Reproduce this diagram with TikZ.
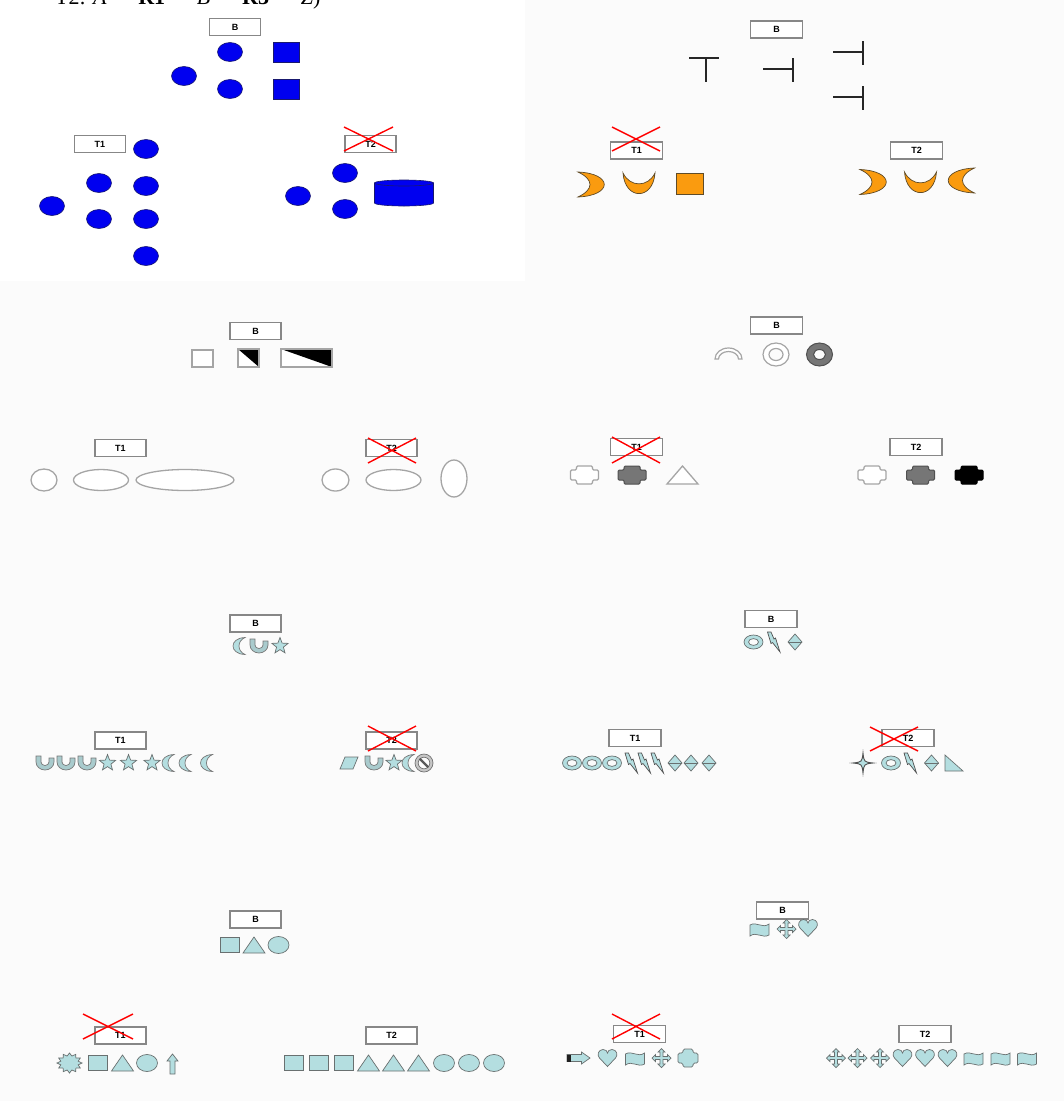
\documentclass[tikz,border=0pt]{standalone}
\usepackage{fontspec}
\setmainfont{Liberation Serif}
\setsansfont{Liberation Sans}
\definecolor{blueF}{RGB}{0,0,240}
\definecolor{blueD}{RGB}{25,25,110}
\definecolor{orF}{RGB}{250,155,15}
\definecolor{orD}{RGB}{95,75,40}
\definecolor{tlF}{RGB}{180,222,224}
\definecolor{tlD}{RGB}{105,112,112}
\definecolor{gL}{RGB}{165,165,165}
\definecolor{gM}{RGB}{118,118,118}
\definecolor{gD}{RGB}{80,80,80}
\definecolor{boxD}{RGB}{135,135,135}
\definecolor{bgc}{RGB}{251,251,251}
\tikzset{
 lab/.style={draw=boxD, fill=white, line width=1.2pt, minimum width=52pt, minimum height=17pt, inner sep=0pt, font=\sffamily\bfseries\fontsize{9}{9}\selectfont},
 xcross/.style={draw=red, line width=1.4pt},
 blueS/.style={fill=blueF, draw=blueD, line width=0.6pt},
 orS/.style={fill=orF, draw=orD, line width=0.7pt},
 tl/.style={fill=tlF, draw=tlD, line width=0.7pt},
 gO/.style={draw=gL, line width=1.3pt, fill=white},
 teeS/.style={draw=black!85, line width=2.2pt},
 pst/.style={fill=white, draw=gL, line width=1.2pt},
 bell/.pic={\path[blueS] (0,0) ellipse[x radius=12.5,y radius=9.5];},
 bsq/.pic={\path[blueS] (-13,-10) rectangle (13,10);},
 bcyl/.pic={\path[blueS] (-29.5,-10) -- (-29.5,10) arc[start angle=180,end angle=0,x radius=29.5,y radius=3] -- (29.5,-10) -- cycle;
            \path[blueS] (0,-10) ellipse[x radius=29.5,y radius=3];},
 teeT/.pic={\path[teeS] (-15,0) -- (15,0) (2,0) -- (2,24);},
 teeL/.pic={\path[teeS] (-30,0) -- (0,0) (0,-11) -- (0,13);},
 ocR/.pic={\path[orS] (-13,-12.5) .. controls (22,-11) and (22,11) .. (-13,12.5) .. controls (3,5) and (3,-5) .. (-13,-12.5) -- cycle;},
 ocU/.pic={\path[orS] (-16,-10.5) .. controls (-14,17) and (14,17) .. (16,-10.5) .. controls (9,4) and (-9,4) .. (-16,-10.5) -- cycle;},
 osq/.pic={\path[orS] (-13.5,-10.5) rectangle (13.5,10.5);},
 plusA/.pic={\path[pst, rounded corners=1.2pt] (-8,-9) -- (8,-9) -- (8,-5) -- (14,-5) -- (14,5) -- (8,5) -- (8,9) -- (-8,9) -- (-8,5) -- (-14,5) -- (-14,-5) -- (-8,-5) -- cycle;},
 moonS/.pic={\path[tl, draw=gM] (6,-8.5) .. controls (-10,-8) and (-10,8) .. (6,8.5) .. controls (-2,5) and (-2,-5) .. (6,-8.5) -- cycle;},
 hsU/.pic={\path[tl, fill=tlF!80!gray, draw=gM] (-9,-7) -- (-9,-1) arc[start angle=180,end angle=0,x radius=9,y radius=8] -- (9,-5) -- (4,-5) -- (4,-1) arc[start angle=0,end angle=180,x radius=4,y radius=3.5] -- (-4,-7) -- cycle;},
 star5/.pic={\path[tl] (-90:8.5) -- (-54:3.6) -- (-18:8.5) -- (18:3.6) -- (54:8.5) -- (90:3.6) -- (126:8.5) -- (162:3.6) -- (198:8.5) -- (234:3.6) -- cycle;},
 para/.pic={\path[tl] (-9,6) -- (-4,-6) -- (9,-6) -- (4,6) -- cycle;},
 nosym/.pic={\path[tl, fill=gray!45, draw=gD!80, even odd rule] (0,0) circle[radius=9] (0,0) circle[radius=5.8];
             \draw[gray!70!black, line width=2.4pt] (-4.3,-4.3) -- (4.3,4.3);},
 donutT/.pic={\path[tl, even odd rule] (0,0) ellipse[x radius=9.5,y radius=7] (0,0) ellipse[x radius=5,y radius=3.4];},
 bolt/.pic={\path[tl, draw=gD] (-6,-10) -- (-2.5,-10) -- (0.5,-3) -- (2,-4) -- (6.5,10) -- (-1,0.5) -- (-2.5,1.5) -- cycle;},
 diam/.pic={\path[tl] (0,-8) -- (7,0) -- (0,8) -- (-7,0) -- cycle; \draw[tlD, line width=0.7pt] (-7,0) -- (7,0);},
 star4/.pic={\path[tl, draw=gD, line width=0.9pt] (0,-10) .. controls (1,-1) and (1,-1) .. (10,0) .. controls (1,1) and (1,1) .. (0,10) .. controls (-1,1) and (-1,1) .. (-10,0) .. controls (-1,-1) and (-1,-1) .. (0,-10) -- cycle;},
 rtri/.pic={\path[tl] (-9,-8) -- (-9,8) -- (9,8) -- cycle;},
 sqT/.pic={\path[tl] (-9.5,-7.5) rectangle (9.5,7.5);},
 triT/.pic={\path[tl] (-11,8) -- (11,8) -- (0,-8) -- cycle;},
 ellT/.pic={\path[tl] (0,0) ellipse[x radius=10.5,y radius=8.5];},
 burst/.pic={\path[tl, yscale=0.8] (0:12.5) \foreach \i in {1,...,23} { -- ({\i*15}:{mod(\i,2)==0 ? 12.5 : 9}) } -- cycle;},
 uparr/.pic={\path[tl] (-2.5,10) -- (-2.5,-3) -- (-5.5,-3) -- (0,-10) -- (5.5,-3) -- (2.5,-3) -- (2.5,10) -- cycle;},
 flag/.pic={\path[tl] (-9.5,-5) .. controls (-3,-9) and (3,-1) .. (9.5,-6) -- (9.5,5) .. controls (3,9) and (-3,1) .. (-9.5,6) -- cycle;},
 quad/.pic={\path[tl] (0,-9.5) -- (3.5,-6) -- (1.5,-6) -- (1.5,-1.5) -- (6,-1.5) -- (6,-3.5) -- (9.5,0) -- (6,3.5) -- (6,1.5) -- (1.5,1.5) -- (1.5,6) -- (3.5,6) -- (0,9.5) -- (-3.5,6) -- (-1.5,6) -- (-1.5,1.5) -- (-6,1.5) -- (-6,3.5) -- (-9.5,0) -- (-6,-3.5) -- (-6,-1.5) -- (-1.5,-1.5) -- (-1.5,-6) -- (-3.5,-6) -- cycle;},
 heart/.pic={\path[tl] (0,8.5) -- (-8,0) .. controls (-11,-3) and (-9,-8.5) .. (-4.5,-8.5) .. controls (-2,-8.5) and (0,-7) .. (0,-5) .. controls (0,-7) and (2,-8.5) .. (4.5,-8.5) .. controls (9,-8.5) and (11,-3) .. (8,0) -- cycle;},
 rarr/.pic={\path[tl] (-11.5,-3.5) -- (3,-3.5) -- (3,-6) -- (11.5,0) -- (3,6) -- (3,3.5) -- (-11.5,3.5) -- cycle;
            \path[fill=gray!25!black] (-11.5,-3.5) rectangle (-8,3.5);},
 plusT/.pic={\path[tl, rounded corners=1.5pt] (-5,-9) -- (5,-9) -- (5,-5) -- (10,-5) -- (10,5) -- (5,5) -- (5,9) -- (-5,9) -- (-5,5) -- (-10,5) -- (-10,-5) -- (-5,-5) -- cycle;},
}
\newcommand\ttarr{\raisebox{5.5pt}{$\rightarrow$}}
\begin{document}
\begin{tikzpicture}[x=1pt,y=-1pt]
\useasboundingbox (0,0) rectangle (1064,1101);
\fill[bgc] (0,0) rectangle (1064,1101);
\fill[white] (0,0) rectangle (525,281);
% top text (cut off by the page edge, as in the reference)
\node[anchor=base west, inner sep=0pt, font=\fontsize{22}{22}\selectfont] (title) at (55,4) {T2: \textit{A} \ttarr{} \textbf{R1} \ttarr{} \textit{B} \ttarr{} \textbf{R3} \ttarr{} \textit{Z})};

% ===== panel 1 =====
\node[lab, minimum width=51pt] (b1) at (235,27) {B};
\node[lab, minimum width=51pt] (t11) at (100,144) {T1};
\node[lab, minimum width=51pt] (t21) at (370.5,144) {T2};
\draw[xcross] (344,127) -- (393,151) (344,151) -- (393,127);
\pic at (230,52) {bell}; \pic at (230,89) {bell}; \pic at (184,76) {bell};
\pic at (286,52) {bsq}; \pic at (286,89) {bsq};
\pic at (146,149) {bell}; \pic at (99,183) {bell}; \pic at (146,186) {bell};
\pic at (52,206) {bell}; \pic at (99,219) {bell}; \pic at (146,219) {bell};
\pic at (146,256) {bell};
\pic at (345,173) {bell}; \pic at (298,196) {bell}; \pic at (345,209) {bell};
\pic at (404,193) {bcyl};

% ===== panel 2 =====
\node[lab] (b2) at (776.5,29.5) {B};
\node[lab] (t12) at (636.5,150.5) {T1};
\node[lab] (t22) at (916.5,150.5) {T2};
\draw[xcross] (612,127) -- (660,151) (612,151) -- (660,127);
\pic at (704,58) {teeT};
\pic at (793,69) {teeL}; \pic at (863,52) {teeL}; \pic at (863,97) {teeL};
\pic at (591,184.5) {ocR}; \pic at (639,183.5) {ocU}; \pic at (689.5,183.5) {osq};
\pic at (873,182) {ocR}; \pic at (920.5,182.5) {ocU}; \pic[xscale=-1] at (961.5,180.5) {ocR};

% ===== panel 3 =====
\node[lab, minimum width=51pt] (b3) at (255.5,331) {B};
\node[lab, minimum width=51pt] (t13) at (120.5,448) {T1};
\node[lab, minimum width=51pt] (t23) at (391.5,448) {T2};
\draw[xcross] (368,438) -- (416,463) (368,463) -- (416,438);
\path[gO] (192,350) rectangle (213,367);
\path[gO] (238,349) rectangle (259,367);
\fill[black] (238,349) -- (259,349) -- (259,367) -- cycle;
\draw[gL, line width=1.3pt] (238,349) rectangle (259,367);
\path[gO] (281,349) rectangle (332,367);
\fill[black] (281,349) -- (332,349) -- (332,367) -- cycle;
\draw[gL, line width=1.3pt] (281,349) rectangle (332,367);
\path[gO] (44,480) ellipse[x radius=13,y radius=11];
\path[gO] (101,480) ellipse[x radius=27.5,y radius=10.5];
\path[gO] (185,480) ellipse[x radius=49,y radius=10.5];
\path[gO] (335.5,480) ellipse[x radius=13.5,y radius=11];
\path[gO] (393.5,480) ellipse[x radius=27.5,y radius=10.5];
\path[gO] (454,478.5) ellipse[x radius=13,y radius=18.5];

% ===== panel 4 =====
\node[lab] (b4) at (776.5,325.5) {B};
\node[lab] (t14) at (636.5,447) {T1};
\node[lab] (t24) at (916,447) {T2};
\draw[xcross] (612,437) -- (660,463) (612,463) -- (660,437);
\path[draw=gL, line width=1.2pt, fill=white] (715,359) arc[start angle=180,end angle=360,x radius=13.5,y radius=11] -- (738.5,359) arc[start angle=0,end angle=-180,x radius=10,y radius=7.5] -- cycle;
\path[draw=gL, line width=1.2pt, fill=white, even odd rule] (776,354.5) ellipse[x radius=13,y radius=11.5] (776,354.5) ellipse[x radius=7,y radius=6];
\path[draw=gD, line width=1pt, fill=gM, even odd rule] (819.5,354.5) ellipse[x radius=13,y radius=11.5] (819.5,354.5) ellipse[x radius=6,y radius=5];
\pic at (584.5,475) {plusA};
\pic[pst/.style={fill=gM, draw=gD, line width=1pt}] at (632,475) {plusA};
\path[gO] (667,484) -- (698,484) -- (682.5,466) -- cycle;
\pic at (872,475) {plusA};
\pic[pst/.style={fill=gM, draw=gD, line width=1pt}] at (920.5,475) {plusA};
\pic[pst/.style={fill=black, draw=black, line width=1pt}] at (969,475) {plusA};

% ===== panel 5 =====
\node[lab, minimum width=51pt] (b5) at (255.5,623.5) {B};
\node[lab, minimum width=51pt] (t15) at (120.5,740.5) {T1};
\node[lab, minimum width=51pt] (t25) at (391.5,740.5) {T2};
\draw[xcross] (368,726) -- (416,751) (368,751) -- (416,726);
\pic at (239,646) {moonS}; \pic at (259,646) {hsU}; \pic at (280,646) {star5};
\pic at (45,763) {hsU}; \pic at (66,763) {hsU}; \pic at (87,763) {hsU};
\pic at (107.5,763) {star5}; \pic at (128.5,763) {star5}; \pic at (152,763) {star5};
\pic at (168,763) {moonS}; \pic at (185,763) {moonS}; \pic at (206.5,763) {moonS};
\pic at (349,763) {para}; \pic at (374,763) {hsU}; \pic at (394,763) {star5};
\pic at (408,763) {moonS}; \pic at (424,763) {nosym};

% ===== panel 6 =====
\node[lab] (b6) at (771,619) {B};
\node[lab] (t16) at (635,738) {T1};
\node[lab] (t26) at (908,738) {T2};
\draw[xcross] (870,727) -- (918,751) (870,751) -- (918,727);
\pic at (753.5,642) {donutT}; \pic at (773.5,642) {bolt}; \pic at (795,642) {diam};
\pic at (572,763) {donutT}; \pic at (592,763) {donutT}; \pic at (612,763) {donutT};
\pic at (631,763) {bolt}; \pic at (644,763) {bolt}; \pic at (657,763) {bolt};
\pic at (675,763) {diam}; \pic at (691,763) {diam}; \pic at (709,763) {diam};
\pic at (863,763) {star4}; \pic at (891,763) {donutT}; \pic at (910,763) {bolt};
\pic at (931.5,763) {diam}; \pic at (954,763) {rtri};

% ===== panel 7 =====
\node[lab, minimum width=51pt] (b7) at (255.5,919.5) {B};
\node[lab, minimum width=51pt] (t17) at (120.5,1035.5) {T1};
\node[lab, minimum width=51pt] (t27) at (391.5,1035.5) {T2};
\draw[xcross] (83,1014) -- (133,1039) (83,1039) -- (133,1014);
\pic at (229.5,945) {sqT}; \pic at (254,945) {triT}; \pic at (278.5,945) {ellT};
\pic at (69.5,1063) {burst}; \pic at (98,1063) {sqT}; \pic at (122.5,1063) {triT};
\pic at (147,1063) {ellT}; \pic at (172.5,1064) {uparr};
\pic at (294,1063) {sqT}; \pic at (319,1063) {sqT}; \pic at (343.5,1063) {sqT};
\pic at (368.5,1063) {triT}; \pic at (393.5,1063) {triT}; \pic at (418.5,1063) {triT};
\pic at (444,1063) {ellT}; \pic at (469,1063) {ellT}; \pic at (494,1063) {ellT};

% ===== panel 8 =====
\node[lab] (b8) at (782.5,910.5) {B};
\node[lab] (t18) at (639.5,1034) {T1};
\node[lab] (t28) at (925,1034) {T2};
\draw[xcross] (612,1014) -- (660,1039) (612,1039) -- (660,1014);
\pic at (759.5,930) {flag}; \pic at (786.5,929) {quad}; \pic at (808,928) {heart};
\pic at (578.5,1058) {rarr}; \pic at (607.5,1058) {heart}; \pic at (635,1059) {flag};
\pic at (661.5,1058) {quad}; \pic at (688,1058) {plusT};
\pic at (836,1058) {quad}; \pic at (857.5,1058) {quad}; \pic at (880,1058) {quad};
\pic at (902.5,1058) {heart}; \pic at (925,1058) {heart}; \pic at (947.5,1058) {heart};
\pic at (973.5,1059) {flag}; \pic at (1000.5,1059) {flag}; \pic at (1027,1059) {flag};
\end{tikzpicture}
\end{document}
